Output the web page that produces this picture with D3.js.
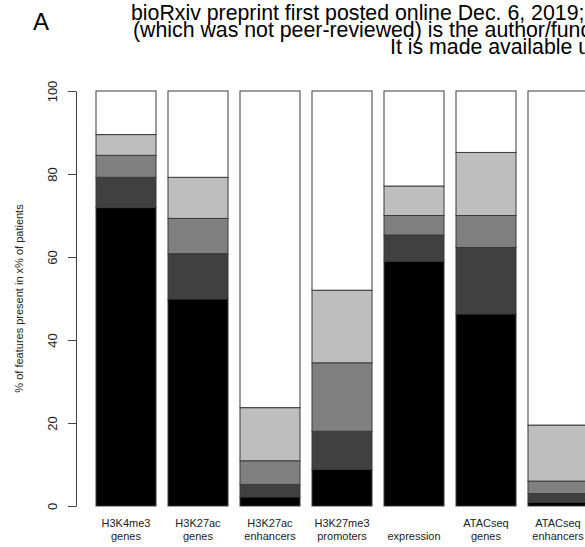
<!DOCTYPE html>
<html>
<head>
<meta charset="utf-8">
<script src="https://cdn.jsdelivr.net/npm/d3@7"></script>
<style>
  body { margin: 0; background: #fff; }
  svg { display: block; font-family: "Liberation Sans", Arial, sans-serif; }
</style>
</head>
<body>
<div id="chart"></div>
<script>
// bars, each split in two label lines
const categories = ["H3K4me3 genes", "H3K27ac genes", "H3K27ac enhancers", "H3K27me3 promoters",
                    "expression", "ATACseq genes", "ATACseq enhancers"];
const labelTop = ["H3K4me3", "H3K27ac", "H3K27ac", "H3K27me3", "", "ATACseq", "ATACseq"];
const labelBottom = ["genes", "genes", "enhancers", "promoters", "expression", "genes", "enhancers"];

// % of features in each stacked level (bottom -> top)
const level1 = [71.9, 49.9, 2.2, 8.8, 59.0, 46.3, 0.9];
const level2 = [7.3, 10.9, 3.0, 9.2, 6.3, 16.0, 2.1];
const level3 = [5.3, 8.5, 5.7, 16.5, 4.7, 7.7, 3.0];
const level4 = [5.0, 9.9, 12.8, 17.5, 7.1, 15.2, 13.5];
const level5 = [10.5, 20.8, 76.3, 48.0, 22.9, 14.8, 80.5];

const yTicks = [0, 20, 40, 60, 80, 100];
const levelColors = ["#000000", "#404040", "#808080", "#bebebe", "#ffffff"];

const headerLines = [
    "bioRxiv preprint first posted online Dec. 6, 2019;",
    "(which was not peer-reviewed) is the author/fund",
    "It is made available u"
];

const width = 585, height = 547;

const svg = d3.select("#chart").append("svg")
    .attr("width", width)
    .attr("height", height);

// header watermark + panel letter
svg.append("text")
    .attr("x", 33)
    .attr("y", 30)
    .style("font-size", "24px")
    .attr("fill", "#000")
    .text("A");

const headerX = [131, 133, 390];
const headerY = [20, 37, 54];
headerLines.forEach((line, i) => {
    svg.append("text")
        .attr("x", headerX[i])
        .attr("y", headerY[i])
        .style("font-size", "21.3px")
        .attr("fill", "#000")
        .text(line);
});

// table for the stack
const rows = categories.map((c, i) => ({
    cat: c, l1: level1[i], l2: level2[i], l3: level3[i], l4: level4[i], l5: level5[i]
}));
const keys = ["l1", "l2", "l3", "l4", "l5"];
const series = d3.stack().keys(keys)(rows);

const x = d3.scaleBand()
    .domain(categories)
    .range([90, 594])
    .paddingInner(1 / 6)
    .paddingOuter(1 / 12);

const y = d3.scaleLinear()
    .domain([0, 100])
    .range([506, 91]);

// bars
const layers = svg.append("g")
    .selectAll("g")
    .data(series)
    .join("g")
    .attr("fill", (d, i) => levelColors[i]);

layers.selectAll("rect")
    .data(d => d)
    .join("rect")
    .attr("x", d => x(d.data.cat))
    .attr("y", d => y(d[1]))
    .attr("width", x.bandwidth())
    .attr("height", d => y(d[0]) - y(d[1]))
    .attr("stroke", "#3a3a3a")
    .attr("stroke-width", 1);

// y axis, R style
const yAxis = svg.append("g")
    .attr("transform", "translate(76,0)")
    .call(d3.axisLeft(y).tickValues(yTicks).tickSize(8).tickSizeOuter(0));

yAxis.select(".domain").attr("stroke", "#444");
yAxis.selectAll(".tick line").attr("stroke", "#444");
yAxis.selectAll(".tick text")
    .attr("x", null)
    .attr("dy", null)
    .attr("transform", "translate(-19,0) rotate(-90)")
    .attr("text-anchor", "middle")
    .style("font-size", "13px")
    .style("font-family", "'Liberation Sans', Arial, sans-serif")
    .attr("fill", "#222");

svg.append("text")
    .attr("transform", `translate(23,${y(50)}) rotate(-90)`)
    .attr("text-anchor", "middle")
    .style("font-size", "11px")
    .attr("fill", "#222")
    .text("% of features present in x% of patients");

// x labels
const xLabels = svg.append("g")
    .selectAll("text")
    .data(categories)
    .join("text")
    .attr("text-anchor", "middle")
    .style("font-size", "11px")
    .attr("fill", "#222");

xLabels.append("tspan")
    .attr("x", d => x(d) + x.bandwidth() / 2)
    .attr("y", 527)
    .text((d, i) => labelTop[i]);

xLabels.append("tspan")
    .attr("x", d => x(d) + x.bandwidth() / 2)
    .attr("y", 540)
    .text((d, i) => labelBottom[i]);
</script>
</body>
</html>
